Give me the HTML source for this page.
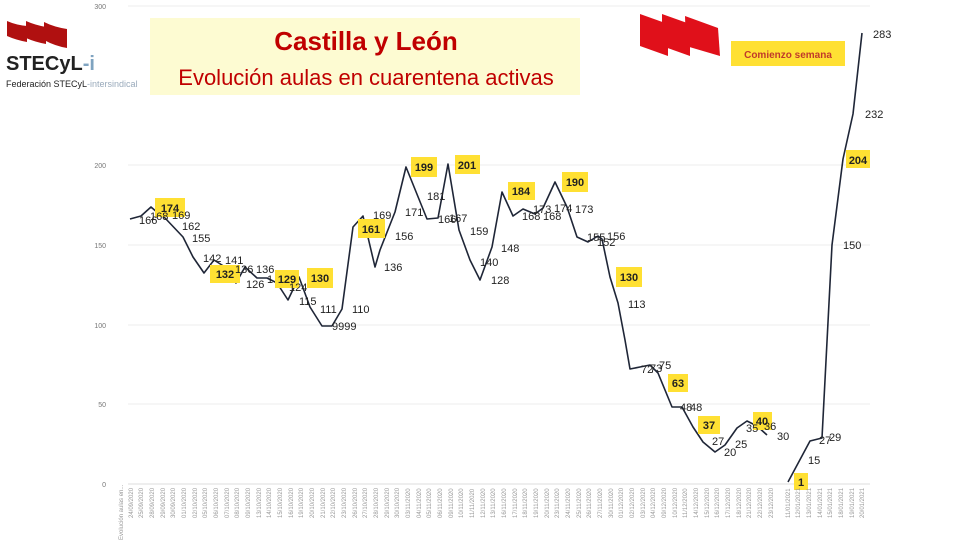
<!DOCTYPE html>
<html><head><meta charset="utf-8"><style>
body{margin:0;width:975px;height:549px;background:#fff;overflow:hidden;font-family:"Liberation Sans",sans-serif}
svg{position:absolute;left:0;top:0}
</style></head><body>
<svg width="975" height="549" viewBox="0 0 975 549">
<g stroke="#ececec" stroke-width="1">
<line x1="128" y1="6" x2="870" y2="6"/><line x1="128" y1="165" x2="870" y2="165"/><line x1="128" y1="245" x2="870" y2="245"/><line x1="128" y1="325" x2="870" y2="325"/><line x1="128" y1="404" x2="870" y2="404"/>
</g>
<line x1="128" y1="484" x2="870" y2="484" stroke="#ddd"/>
<g font-size="7" fill="#777" text-anchor="end">
<text x="106" y="9">300</text><text x="106" y="168">200</text><text x="106" y="248">150</text><text x="106" y="328">100</text><text x="106" y="407">50</text><text x="106" y="487">0</text>
</g>
<rect x="150" y="18" width="430" height="77" fill="#fdfbd2"/>
<text x="366" y="50" text-anchor="middle" font-size="26" font-weight="bold" fill="#c00000">Castilla y León</text>
<text x="366" y="85" text-anchor="middle" font-size="22" fill="#c00000">Evolución aulas en cuarentena activas</text>
<g fill="#b01010">
<path d="M7 21 Q16 25 27 26 L27 42 Q16 40 7 36Z"/>
<path d="M26 21 Q35 25 46 27 L46 44 Q35 42 26 38Z"/>
<path d="M44 22 Q54 27 67 29 L67 48 Q55 46 44 40Z"/>
</g>
<text x="6" y="70" font-size="20" font-weight="bold" fill="#222">STECyL<tspan fill="#7fa3c0">-i</tspan></text>
<text x="6" y="87" font-size="9" fill="#222">Federación STECyL<tspan fill="#9ab">-intersindical</tspan></text>
<g fill="#e0101a">
<path d="M640 14 L668 24 L668 56 L640 46Z"/><path d="M662 14 L690 24 L690 56 L662 46Z"/><path d="M685 16 L718 28 L720 56 L686 46Z"/>
</g>
<rect x="731" y="41" width="114" height="25" fill="#ffe033"/>
<text x="788" y="58" text-anchor="middle" font-size="10" font-weight="bold" fill="#c0392b">Comienzo semana</text>
<polyline fill="none" stroke="#1f2637" stroke-width="1.6" stroke-linejoin="round" points="130,219 141,216 151,207 158,213 165,218 183,237 193,257 204,273 214,260 225,267 236,283 245,267 257,278 267,278 277,283 288,300 299,277 310,307 322,326 332,326 342,309 353,227 363,216 375,267 380,250 395,212 406,167 427,219 438,218 448,164 459,230 470,260 480,280 492,247 502,192 513,216 523,209 535,214 543,208 555,182 567,207 577,237 588,242 598,236 602,239 610,277 618,303 625,340 630,369 640,367 650,365 658,373 672,407 682,407 693,427 703,442 715,452 725,445 737,428 747,421 757,426 767,435"/>
<polyline fill="none" stroke="#1f2637" stroke-width="1.6" stroke-linejoin="round" points="788,482 810,441 822,438 832,245 843,159 853,114 862,33"/>
<g fill="#ffe033">
<rect x="155" y="198" width="30" height="19"/><rect x="210" y="265" width="30" height="18"/><rect x="275" y="270" width="24" height="18"/><rect x="307" y="268" width="26" height="20"/><rect x="358" y="219" width="27" height="19"/><rect x="411" y="157" width="26" height="20"/><rect x="455" y="155" width="25" height="19"/><rect x="508" y="182" width="27" height="18"/><rect x="562" y="172" width="26" height="20"/><rect x="616" y="267" width="26" height="20"/><rect x="668" y="374" width="20" height="18"/><rect x="698" y="416" width="22" height="18"/><rect x="753" y="412" width="19" height="18"/><rect x="794" y="473" width="14" height="17"/><rect x="846" y="150" width="24" height="18"/>
</g>
<g font-size="11" font-weight="bold" fill="#222" text-anchor="middle">
<text x="170" y="212">174</text><text x="225" y="278">132</text><text x="287" y="283">129</text><text x="320" y="282">130</text><text x="371" y="233">161</text><text x="424" y="171">199</text><text x="467" y="169">201</text><text x="521" y="195">184</text><text x="575" y="186">190</text><text x="629" y="281">130</text><text x="678" y="387">63</text><text x="709" y="429">37</text><text x="762" y="425">40</text><text x="801" y="486">1</text><text x="858" y="164">204</text>
</g>
<g font-size="11" fill="#222">
<text x="139" y="224">166</text><text x="150" y="220">168</text><text x="172" y="219">169</text><text x="182" y="230">162</text><text x="192" y="242">155</text><text x="203" y="262">142</text><text x="225" y="264">141</text><text x="235" y="273">136</text><text x="246" y="288">126</text><text x="256" y="273">136</text><text x="267" y="283">1</text><text x="289" y="291">124</text><text x="299" y="305">115</text><text x="320" y="313">111</text><text x="332" y="330">9999</text><text x="352" y="313">110</text><text x="373" y="219">169</text><text x="384" y="271">136</text><text x="395" y="240">156</text><text x="405" y="216">171</text><text x="427" y="200">181</text><text x="438" y="223">166</text><text x="449" y="222">167</text><text x="470" y="235">159</text><text x="480" y="266">140</text><text x="491" y="284">128</text><text x="501" y="252">148</text><text x="522" y="220">168</text><text x="533" y="213">173</text><text x="543" y="220">168</text><text x="554" y="212">174</text><text x="575" y="213">173</text><text x="587" y="241">155</text><text x="597" y="246">152</text><text x="607" y="240">156</text><text x="628" y="308">113</text><text x="641" y="373">72</text><text x="650" y="372">73</text><text x="659" y="369">75</text><text x="680" y="411">48</text><text x="690" y="411">48</text><text x="712" y="445">27</text><text x="724" y="456">20</text><text x="735" y="448">25</text><text x="746" y="432">35</text><text x="764" y="430">36</text><text x="777" y="440">30</text><text x="808" y="464">15</text><text x="819" y="444">27</text><text x="829" y="441">29</text><text x="843" y="249">150</text><text x="865" y="118">232</text><text x="873" y="38">283</text>
</g>
<g font-size="6" fill="#999">
<text transform="translate(123,540) rotate(-90)">Evolución aulas en...</text>
<text transform="translate(133,518) rotate(-90)">24/09/2020</text><text transform="translate(143,518) rotate(-90)">25/09/2020</text><text transform="translate(154,518) rotate(-90)">28/09/2020</text><text transform="translate(165,518) rotate(-90)">29/09/2020</text><text transform="translate(175,518) rotate(-90)">30/09/2020</text><text transform="translate(186,518) rotate(-90)">01/10/2020</text><text transform="translate(197,518) rotate(-90)">02/10/2020</text><text transform="translate(207,518) rotate(-90)">05/10/2020</text><text transform="translate(218,518) rotate(-90)">06/10/2020</text><text transform="translate(229,518) rotate(-90)">07/10/2020</text><text transform="translate(239,518) rotate(-90)">08/10/2020</text><text transform="translate(250,518) rotate(-90)">09/10/2020</text><text transform="translate(261,518) rotate(-90)">13/10/2020</text><text transform="translate(271,518) rotate(-90)">14/10/2020</text><text transform="translate(282,518) rotate(-90)">15/10/2020</text><text transform="translate(293,518) rotate(-90)">16/10/2020</text><text transform="translate(303,518) rotate(-90)">19/10/2020</text><text transform="translate(314,518) rotate(-90)">20/10/2020</text><text transform="translate(325,518) rotate(-90)">21/10/2020</text><text transform="translate(335,518) rotate(-90)">22/10/2020</text><text transform="translate(346,518) rotate(-90)">23/10/2020</text><text transform="translate(357,518) rotate(-90)">26/10/2020</text><text transform="translate(367,518) rotate(-90)">27/10/2020</text><text transform="translate(378,518) rotate(-90)">28/10/2020</text><text transform="translate(389,518) rotate(-90)">29/10/2020</text><text transform="translate(399,518) rotate(-90)">30/10/2020</text><text transform="translate(410,518) rotate(-90)">03/11/2020</text><text transform="translate(421,518) rotate(-90)">04/11/2020</text><text transform="translate(431,518) rotate(-90)">05/11/2020</text><text transform="translate(442,518) rotate(-90)">06/11/2020</text><text transform="translate(453,518) rotate(-90)">09/11/2020</text><text transform="translate(463,518) rotate(-90)">10/11/2020</text><text transform="translate(474,518) rotate(-90)">11/11/2020</text><text transform="translate(485,518) rotate(-90)">12/11/2020</text><text transform="translate(495,518) rotate(-90)">13/11/2020</text><text transform="translate(506,518) rotate(-90)">16/11/2020</text><text transform="translate(517,518) rotate(-90)">17/11/2020</text><text transform="translate(527,518) rotate(-90)">18/11/2020</text><text transform="translate(538,518) rotate(-90)">19/11/2020</text><text transform="translate(549,518) rotate(-90)">20/11/2020</text><text transform="translate(559,518) rotate(-90)">23/11/2020</text><text transform="translate(570,518) rotate(-90)">24/11/2020</text><text transform="translate(581,518) rotate(-90)">25/11/2020</text><text transform="translate(591,518) rotate(-90)">26/11/2020</text><text transform="translate(602,518) rotate(-90)">27/11/2020</text><text transform="translate(613,518) rotate(-90)">30/11/2020</text><text transform="translate(623,518) rotate(-90)">01/12/2020</text><text transform="translate(634,518) rotate(-90)">02/12/2020</text><text transform="translate(645,518) rotate(-90)">03/12/2020</text><text transform="translate(655,518) rotate(-90)">04/12/2020</text><text transform="translate(666,518) rotate(-90)">09/12/2020</text><text transform="translate(677,518) rotate(-90)">10/12/2020</text><text transform="translate(687,518) rotate(-90)">11/12/2020</text><text transform="translate(698,518) rotate(-90)">14/12/2020</text><text transform="translate(709,518) rotate(-90)">15/12/2020</text><text transform="translate(719,518) rotate(-90)">16/12/2020</text><text transform="translate(730,518) rotate(-90)">17/12/2020</text><text transform="translate(741,518) rotate(-90)">18/12/2020</text><text transform="translate(751,518) rotate(-90)">21/12/2020</text><text transform="translate(762,518) rotate(-90)">22/12/2020</text><text transform="translate(773,518) rotate(-90)">23/12/2020</text><text transform="translate(790,518) rotate(-90)">11/01/2021</text><text transform="translate(800,518) rotate(-90)">12/01/2021</text><text transform="translate(811,518) rotate(-90)">13/01/2021</text><text transform="translate(822,518) rotate(-90)">14/01/2021</text><text transform="translate(832,518) rotate(-90)">15/01/2021</text><text transform="translate(843,518) rotate(-90)">18/01/2021</text><text transform="translate(854,518) rotate(-90)">19/01/2021</text><text transform="translate(864,518) rotate(-90)">20/01/2021</text>
</g>
</svg>
</body></html>
